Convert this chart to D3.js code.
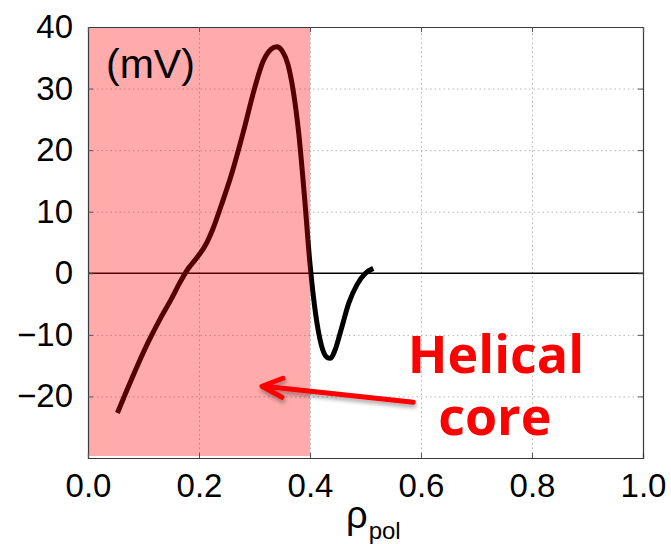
<!DOCTYPE html>
<html>
<head>
<meta charset="utf-8">
<script src="https://cdnjs.cloudflare.com/ajax/libs/d3/7.8.5/d3.min.js"></script>
<style>
  body { margin: 0; background: #fff; }
  svg text { font-family: "Liberation Sans", Arial, sans-serif; }
</style>
</head>
<body>
<div id="chart"></div>
<script>
// profile
var rho = [0.053, 0.07, 0.09, 0.11, 0.13, 0.15, 0.165, 0.18, 0.195, 0.21, 0.225, 0.24, 0.26, 0.28, 0.30, 0.315, 0.33, 0.34, 0.35, 0.36, 0.37, 0.38, 0.39, 0.40, 0.41, 0.42, 0.43, 0.437, 0.445, 0.455, 0.47, 0.485, 0.50, 0.514];
var phi = [-22.7, -19, -14.8, -10.9, -7.4, -4.2, -1.6, 0.7, 2.4, 4.3, 7.2, 11, 16.5, 23, 30, 34.3, 36.4, 36.8, 36.1, 34, 29.5, 22.5, 12.5, 1.5, -6.5, -11.5, -13.6, -13.8, -12.5, -9.5, -4.8, -1.8, 0.0, 0.8];

var xTicks = [0, 0.2, 0.4, 0.6, 0.8, 1.0];
var yTicks = [-20, -10, 0, 10, 20, 30, 40];
var coreRange = [0, 0.4];

var svgWidth = 671;
var svgHeight = 544;

var margin = {
  top: 27,
  right: 28,
  bottom: 86,
  left: 88
};

var width = svgWidth - margin.left - margin.right;
var height = svgHeight - margin.top - margin.bottom;

var svg = d3.select("#chart")
.append("svg")
.attr("width", svgWidth)
.attr("height", svgHeight);

var defs = svg.append("defs");
var shadow = defs.append("filter")
.attr("id", "shadow")
.attr("x", "-20%").attr("y", "-100%")
.attr("width", "140%").attr("height", "300%");
shadow.append("feDropShadow")
.attr("dx", 1).attr("dy", 3)
.attr("stdDeviation", 2)
.attr("flood-color", "#000")
.attr("flood-opacity", 0.35);

var chartGroup = svg.append("g")
.attr("transform", `translate(${margin.left}, ${margin.top})`);

var xScale = d3.scaleLinear()
.domain([0, 1])
.range([0, width]);

var yScale = d3.scaleLinear()
.domain([-30, 40])
.range([height, 0]);

// dotted grid
chartGroup.append("g")
.attr("class", "grid")
.attr("transform", `translate(0, ${height})`)
.call(d3.axisBottom(xScale).tickValues(xTicks.slice(1, -1)).tickSize(-height).tickFormat(""));

chartGroup.append("g")
.attr("class", "grid")
.call(d3.axisLeft(yScale).tickValues(yTicks.filter(d => d != 0 && d != 40)).tickSize(-width).tickFormat(""));

chartGroup.selectAll(".grid .domain").remove();
chartGroup.selectAll(".grid line")
.attr("stroke", "#b5b5b5")
.attr("stroke-width", 1)
.attr("stroke-dasharray", "1.5,3");

// zero line
chartGroup.append("line")
.attr("x1", 0)
.attr("x2", width)
.attr("y1", yScale(0))
.attr("y2", yScale(0))
.attr("stroke", "#000")
.attr("stroke-width", 1.5);

var line = d3.line()
.x((d, i) => xScale(rho[i]))
.y(d => yScale(d))
.curve(d3.curveMonotoneX);

chartGroup.append("path")
.datum(phi)
.attr("d", line)
.attr("fill", "none")
.attr("stroke", "#000")
.attr("stroke-width", 5)
.attr("stroke-linecap", "butt")
.attr("stroke-linejoin", "round");

// helical core shading, laid over the curve
chartGroup.append("rect")
.attr("x", xScale(coreRange[0]))
.attr("y", 0)
.attr("width", xScale(coreRange[1]) - xScale(coreRange[0]))
.attr("height", height - 2)
.attr("fill", "#ff0000")
.attr("opacity", 0.33);

// axes
var leftAxis = d3.axisLeft(yScale)
.tickValues(yTicks)
.tickSize(-5)
.tickPadding(15)
.tickFormat(d3.format("d"));

var bottomAxis = d3.axisBottom(xScale)
.tickValues(xTicks)
.tickSize(-5)
.tickPadding(16)
.tickFormat(d3.format(".1f"));

var yAxis = chartGroup.append("g").call(leftAxis);
var xAxis = chartGroup.append("g")
.attr("transform", `translate(0, ${height})`)
.call(bottomAxis);

chartGroup.append("g")
.attr("transform", `translate(${width}, 0)`)
.call(d3.axisRight(yScale).tickValues(yTicks).tickSize(-5).tickFormat(""));

chartGroup.append("g")
.call(d3.axisTop(xScale).tickValues(xTicks).tickSize(-5).tickFormat(""));

chartGroup.selectAll(".domain")
.attr("stroke", "#3a3a3a")
.attr("stroke-width", 1.2);
chartGroup.selectAll(".tick line")
.filter(function() { return !this.parentNode.parentNode.classList.contains("grid"); })
.attr("stroke", "#555");

chartGroup.selectAll(".tick text")
.attr("font-size", 33)
.attr("fill", "#000")
.style("font-family", "'Liberation Sans', Arial, sans-serif");

yAxis.selectAll(".tick text")
.text(d => d < 0 ? "\u2212" + Math.abs(d) : d);

// units
chartGroup.append("text")
.attr("x", 18)
.attr("y", 51)
.attr("font-size", 41)
.attr("fill", "#000")
.text("(mV)");

// x label
var xLabel = chartGroup.append("text")
.attr("x", 258)
.attr("y", height + 70)
.attr("fill", "#000");
xLabel.append("tspan")
.attr("font-size", 38)
.text("\u03C1");
xLabel.append("tspan")
.attr("font-size", 24)
.attr("dx", 1)
.attr("dy", 11)
.text("pol");

// annotation
var arrowData = [[0.586, -20.95], [0.3135, -18.35]];
var tip = arrowData[1];
var arrow = chartGroup.append("g")
.attr("filter", "url(#shadow)");

arrow.append("line")
.attr("x1", xScale(arrowData[0][0]))
.attr("y1", yScale(arrowData[0][1]))
.attr("x2", xScale(tip[0]) + 2)
.attr("y2", yScale(tip[1]))
.attr("stroke", "#ff0000")
.attr("stroke-width", 5)
.attr("stroke-linecap", "round");

arrow.append("path")
.attr("d", `M${xScale(tip[0]) + 21},${yScale(tip[1]) - 8} L${xScale(tip[0])},${yScale(tip[1])} L${xScale(tip[0]) + 20},${yScale(tip[1]) + 11}`)
.attr("fill", "none")
.attr("stroke", "#ff0000")
.attr("stroke-width", 5)
.attr("stroke-linecap", "round")
.attr("stroke-linejoin", "round");

var note = chartGroup.append("g")
.attr("text-anchor", "middle")
.attr("fill", "#ff0000")
.attr("font-weight", "bold")
.attr("font-size", 52)
.style("font-family", "'Open Sans', sans-serif");
note.append("text")
.attr("x", xScale(0.735))
.attr("y", 346)
.style("font-family", "'Open Sans', sans-serif")
.text("Helical");
note.append("text")
.attr("x", xScale(0.733))
.attr("y", 408)
.style("font-family", "'Open Sans', sans-serif")
.text("core");
</script>
</body>
</html>
